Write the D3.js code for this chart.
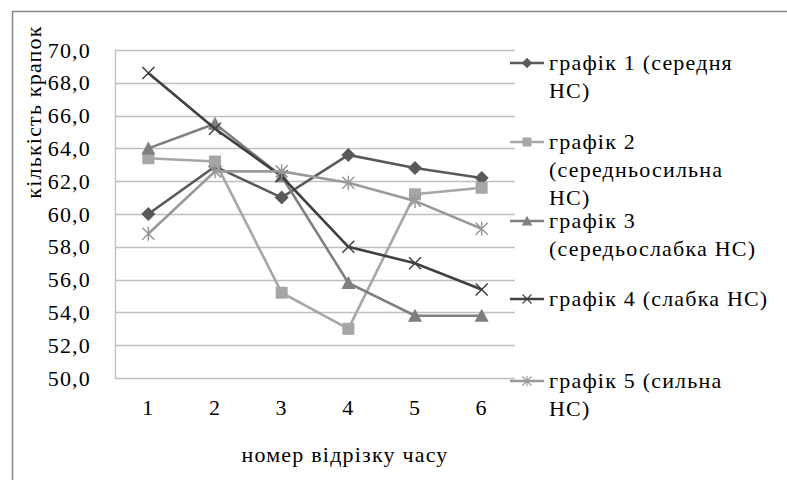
<!DOCTYPE html>
<html>
<head>
<meta charset="utf-8">
<script src="https://cdn.jsdelivr.net/npm/d3@7"></script>
<style>
	body { margin: 0; background: #fff; }
</style>
</head>
<body>
<svg width="787" height="480" font-family="Liberation Serif, DejaVu Serif, serif" font-size="22" letter-spacing="1.2"></svg>
<script>
const categories = [1, 2, 3, 4, 5, 6];
const yTicks = [50, 52, 54, 56, 58, 60, 62, 64, 66, 68, 70];

const series1 = [60.0, 62.9, 61.0, 63.6, 62.8, 62.2];
const series2 = [63.4, 63.2, 55.2, 53.0, 61.2, 61.6];
const series3 = [64.0, 65.5, 62.3, 55.8, 53.8, 53.8];
const series4 = [68.6, 65.2, 62.3, 58.0, 57.0, 55.4];
const series5 = [58.8, 62.6, 62.6, 61.9, 60.8, 59.1];

const legendLabels = [
	['графік 1 (середня', 'НС)'],
	['графік 2', '(середньосильна', 'НС)'],
	['графік 3', '(середьослабка НС)'],
	['графік 4 (слабка НС)'],
	['графік 5 (сильна', 'НС)'],
];

const serif = 'Liberation Serif, DejaVu Serif, serif';
const fontSize = 22;

const svg = d3.select('svg');

const seriesList = [
	{ values: series1, colour: '#595959', marker: 'diamond' },
	{ values: series2, colour: '#a6a6a6', marker: 'square' },
	{ values: series3, colour: '#7f7f7f', marker: 'triangle' },
	{ values: series4, colour: '#404040', marker: 'x' },
	{ values: series5, colour: '#999999', marker: 'star' },
];

// outer frame (runs off the right and bottom edges like the reference)
svg.append('rect')
	.attr('x', 12.5).attr('y', 11.5)
	.attr('width', 800).attr('height', 500)
	.attr('fill', 'none')
	.attr('stroke', '#868686')
	.attr('stroke-width', 1.5);

const plot = { left: 115, right: 515, top: 50, bottom: 378 };

const x = d3.scaleBand()
	.domain(categories)
	.range([plot.left, plot.right]);

const y = d3.scaleLinear()
	.domain([50, 70])
	.range([plot.bottom, plot.top]);

// gridlines
svg.append('g')
	.selectAll('line')
	.data(yTicks)
	.enter()
	.append('line')
	.attr('x1', plot.left)
	.attr('x2', plot.right)
	.attr('y1', d => Math.round(y(d)) + 0.5)
	.attr('y2', d => Math.round(y(d)) + 0.5)
	.attr('stroke', '#bfbfbf')
	.attr('stroke-width', 1.3);

svg.append('line')
	.attr('x1', plot.left + 0.5).attr('x2', plot.left + 0.5)
	.attr('y1', plot.top).attr('y2', plot.bottom)
	.attr('stroke', '#bfbfbf')
	.attr('stroke-width', 1.3);

// y axis labels
const yAxis = svg.append('g')
	.attr('transform', `translate(${plot.left}, 0)`)
	.call(d3.axisLeft(y).tickValues(yTicks).tickSize(0).tickPadding(24)
		.tickFormat(d => d3.format('.1f')(d).replace('.', ',')));
yAxis.select('.domain').remove();
yAxis.attr('font-family', serif).attr('font-size', fontSize);
yAxis.selectAll('text').attr('fill', '#000');

// x axis labels
const xAxis = svg.append('g')
	.attr('transform', `translate(0, ${plot.bottom})`)
	.call(d3.axisBottom(x).tickSize(0).tickPadding(21));
xAxis.select('.domain').remove();
xAxis.attr('font-family', serif).attr('font-size', fontSize);
xAxis.selectAll('text').attr('fill', '#000');

// axis titles
svg.append('text')
	.attr('transform', 'translate(41, 112) rotate(-90)')
	.attr('text-anchor', 'middle')
	.text('кількість крапок');

svg.append('text')
	.attr('x', 345)
	.attr('y', 462)
	.attr('text-anchor', 'middle')
	.text('номер відрізку часу');

const symbolFor = (marker, colour) => {
	const g = d3.create('svg:g');
	if (marker === 'diamond') {
		g.append('path').attr('d', 'M0,-7L7,0L0,7L-7,0Z').attr('fill', colour);
	} else if (marker === 'square') {
		g.append('rect').attr('x', -6).attr('y', -6).attr('width', 12).attr('height', 12).attr('fill', colour);
	} else if (marker === 'triangle') {
		g.append('path').attr('d', 'M0,-7L7,6L-7,6Z').attr('fill', colour);
	} else if (marker === 'x') {
		g.append('path').attr('d', 'M-6,-6L6,6M-6,6L6,-6').attr('stroke', colour).attr('stroke-width', 1.5);
	} else {
		g.append('path').attr('d', 'M-6,-6L6,6M-6,6L6,-6M0,-7L0,7').attr('stroke', colour).attr('stroke-width', 1.5);
	}
	return g.node();
};

const line = d3.line()
	.x((d, i) => x(categories[i]) + x.bandwidth() / 2)
	.y(d => y(d));

seriesList.forEach(s => {
	svg.append('path')
		.datum(s.values)
		.attr('d', line)
		.attr('fill', 'none')
		.attr('stroke', s.colour)
		.attr('stroke-width', 2.6);

	svg.append('g')
		.selectAll('g')
		.data(s.values)
		.enter()
		.append(() => symbolFor(s.marker, s.colour))
		.attr('transform', (d, i) => `translate(${x(categories[i]) + x.bandwidth() / 2},${y(d)})`);
});

// legend
const legendTop = [63, 142, 221, 299, 381];
const lineHeight = 28;

legendLabels.forEach((lines, i) => {
	const s = seriesList[i];
	const g = svg.append('g').attr('transform', `translate(0, ${legendTop[i]})`);
	g.append('line')
		.attr('x1', 510).attr('x2', 544)
		.attr('y1', 0).attr('y2', 0)
		.attr('stroke', s.colour)
		.attr('stroke-width', 2.6);
	g.append(() => symbolFor(s.marker, s.colour))
		.attr('transform', 'translate(527, 0) scale(0.75)');
	lines.forEach((t, j) => {
		g.append('text')
			.attr('x', 549)
			.attr('y', 7 + j * lineHeight)
			.text(t);
	});
});
</script>
</body>
</html>
